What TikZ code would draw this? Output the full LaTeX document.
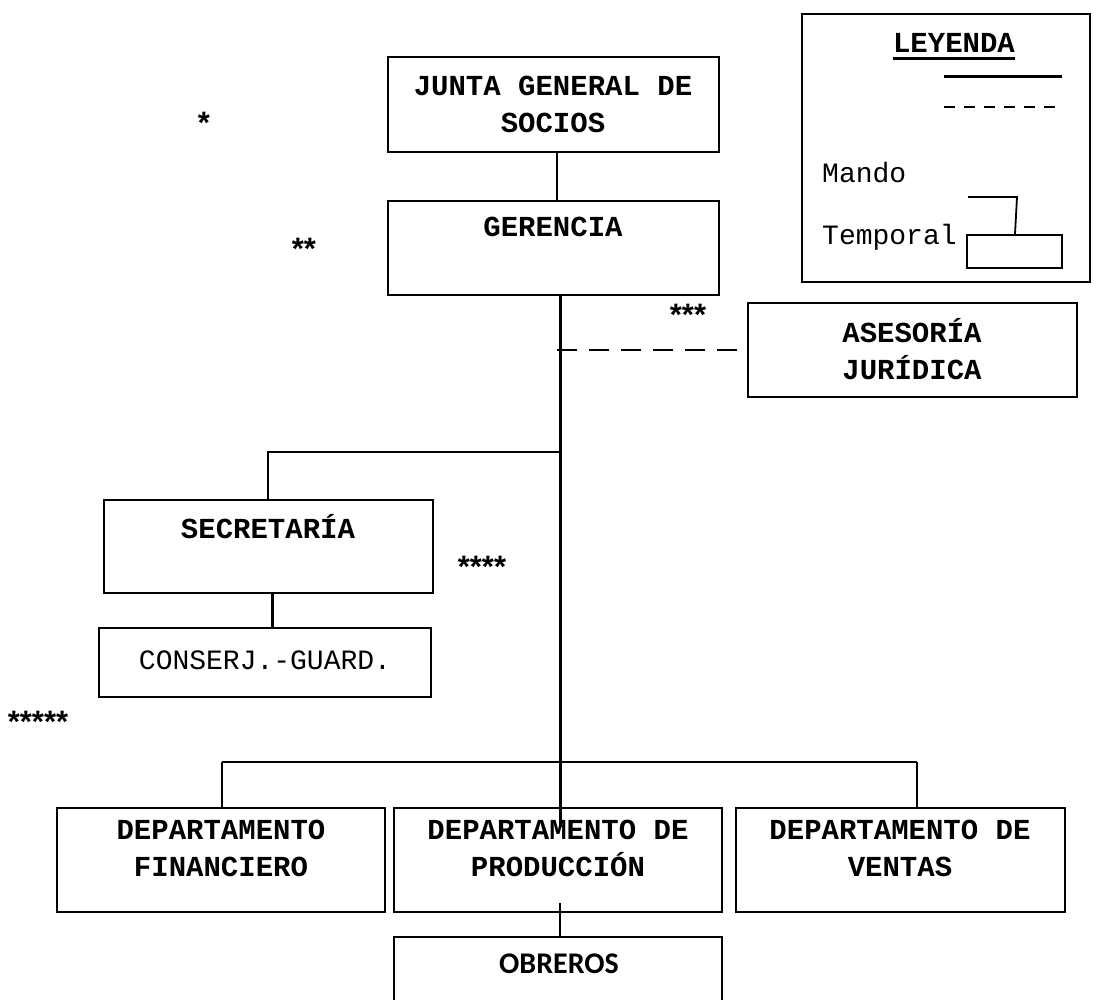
\documentclass[tikz,border=0pt]{standalone}
\usepackage{fontspec}
\setmainfont{Liberation Serif}
\setmonofont{Liberation Mono}
\newfontfamily\calfont{Carlito}
\newfontfamily\arialfont{Liberation Sans}
\begin{document}
\begin{tikzpicture}[x=1pt,y=-1pt,
  box/.style={draw, line width=1.8pt, inner sep=0pt},
  lbl/.style={font=\fontsize{29}{37}\selectfont\ttfamily\bfseries, align=center, inner sep=0pt},
  reg/.style={font=\fontsize{28}{37}\selectfont\ttfamily, inner sep=0pt},
  star/.style={font=\fontsize{31}{34}\selectfont\arialfont\bfseries, inner sep=0pt},
  link/.style={line width=1.8pt},
  mainlink/.style={line width=3pt},
  temp/.style={line width=2pt, dash pattern=on 20pt off 12pt}]
\useasboundingbox (0,0) rectangle (1096,1000);
\fill[white] (0,0) rectangle (1096,1000);

% boxes
\node[box, minimum width=331pt, minimum height=95pt] (junta) at (553.5,104.5) {};
\node[lbl] (juntat) at (553,104) {JUNTA GENERAL DE\\SOCIOS};
\node[box, minimum width=331pt, minimum height=94pt] (ger) at (553.5,248) {};
\node[lbl] (gert) at (553,227) {GERENCIA};
\node[box, minimum width=329pt, minimum height=94pt] (ase) at (912.5,350) {};
\node[lbl] (aset) at (912,349) {ASESORÍA\\JURÍDICA};
\node[box, minimum width=329pt, minimum height=93pt] (sec) at (268.5,546.5) {};
\node[lbl] (sect) at (268,527) {SECRETARÍA};
\node[box, minimum width=332pt, minimum height=69pt] (con) at (265,662.5) {};
\node[reg] (cont) at (265,660) {CONSERJ.-GUARD.};
\node[box, minimum width=328pt, minimum height=104pt] (fin) at (221,860) {};
\node[lbl] (fint) at (221,848) {DEPARTAMENTO\\FINANCIERO};
\node[box, minimum width=328pt, minimum height=104pt] (pro) at (558,860) {};
\node[lbl] (prot) at (558,848) {DEPARTAMENTO DE\\PRODUCCIÓN};
\node[box, minimum width=329pt, minimum height=104pt] (ven) at (900.5,860) {};
\node[lbl] (vent) at (900,848) {DEPARTAMENTO DE\\VENTAS};
\node[box, minimum width=328pt, minimum height=80pt] (obr) at (558,977) {};
\node[font=\fontsize{30}{33}\selectfont\calfont\bfseries, inner sep=0pt] (obrt) at (559,964) {OBREROS};

% stars
\node[star] (s1) at (204,123) {*};
\node[star] (s2) at (304,249) {**};
\node[star] (s3) at (688,315) {***};
\node[star] (s4) at (482,567) {****};
\node[star] (s5) at (38,722) {*****};

% coordinates
\coordinate (mtop) at (560,295);
\coordinate (mase) at (557,350);
\coordinate (msec) at (560,452);
\coordinate (secc) at (268,452);
\coordinate (mbus) at (560,762);
\coordinate (bl) at (222,762);
\coordinate (br) at (917,762);
\coordinate (mend) at (560,827);
\coordinate (pin) at (560,903);

% connectors
\draw[link] (junta.south -| 557,0) -- (ger.north -| 557,0);
\draw[mainlink] (mtop) -- (mend);
\draw[temp] (mase) -- (ase.west);
\draw[link] (msec) -- (secc) -- (sec.north -| secc);
\draw[mainlink] (sec.south -| 272,0) -- (con.north -| 272,0);
\draw[link] (bl) -- (br);
\draw[link] (bl) -- (fin.north -| bl);
\draw[link] (br) -- (ven.north -| br);
\draw[link] (pin) -- (obr.north -| pin);

% legend
\node[box, minimum width=288pt, minimum height=268pt] (leg) at (946,148) {};
\node[lbl] (legt) at (954,43) {LEYENDA};
\draw[line width=3pt] ([yshift=-6pt]legt.south west) -- ([yshift=-6pt]legt.south east);
\coordinate (ls1) at (944,77);
\coordinate (ls2) at (1062,77);
\draw[line width=3pt] (ls1) -- (ls2);
\coordinate (ld1) at (944,107);
\coordinate (ld2) at (1062,107);
\draw[line width=2pt, dash pattern=on 11pt off 9pt] (ld1) -- (ld2);
\node[reg, anchor=west] (mando) at (822,173) {Mando};
\node[reg, anchor=west] (tempo) at (822,237) {Temporal};
\node[box, minimum width=95pt, minimum height=33pt] (mini) at (1014.5,251.5) {};
\coordinate (mc1) at (968,197);
\coordinate (mc2) at (1017,197);
\draw[link] (mc1) -- (mc2) -- (mini.north -| 1015,0);
\end{tikzpicture}
\end{document}
